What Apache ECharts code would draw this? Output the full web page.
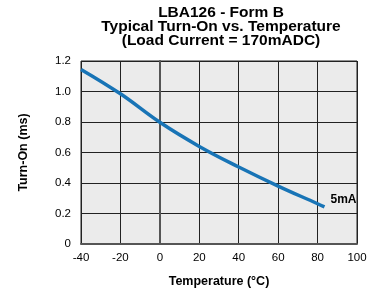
<!DOCTYPE html>
<html><head><meta charset="utf-8">
<script src="https://cdn.jsdelivr.net/npm/echarts@6/dist/echarts.min.js"></script>
<style>html,body{margin:0;padding:0;background:#fff}#c{width:373px;height:293px}</style>
</head><body><div id="c"></div>
<script>
const titleLines = ['LBA126 - Form B', 'Typical Turn-On vs. Temperature', '(Load Current = 170mADC)'];
const xAxisName = 'Temperature (°C)';
const yAxisName = 'Turn-On (ms)';
const seriesName = '5mA';
const temps = [-40, -20, 0, 20, 40, 60, 80, 83.5];
const turnOn = [1.145, 0.985, 0.798, 0.64, 0.505, 0.38, 0.264, 0.243];

const chart = echarts.init(document.getElementById('c'));
chart.setOption({
  animation: false,
  title: {
    text: titleLines.join('\n'),
    left: 216, top: 1, textAlign: 'center',
    textStyle: {fontFamily: 'Liberation Sans', fontWeight: 'bold', fontSize: 15.5, lineHeight: 14, color: '#000'}
  },
  grid: {left: 81, top: 61, right: 16, bottom: 48, show: true, backgroundColor: '#ebebeb', borderColor: '#222', borderWidth: 1},
  xAxis: {
    type: 'value', min: -40, max: 100, interval: 20,
    name: xAxisName, nameLocation: 'middle', nameGap: 31,
    nameTextStyle: {fontFamily: 'Liberation Sans', fontWeight: 'bold', fontSize: 12.5, color: '#000'},
    axisLine: {show: true, onZero: false, lineStyle: {color: '#555', width: 2}},
    axisTick: {show: false},
    axisLabel: {fontFamily: 'Liberation Sans', fontSize: 11.5, color: '#000', margin: 8},
    splitLine: {show: true, lineStyle: {color: '#222', width: 1}}
  },
  yAxis: {
    type: 'value', min: 0, max: 1.2, interval: 0.2,
    name: yAxisName, nameLocation: 'middle', nameGap: 51,
    nameTextStyle: {fontFamily: 'Liberation Sans', fontWeight: 'bold', fontSize: 12.5, color: '#000'},
    axisLine: {show: true, lineStyle: {color: '#555', width: 2}},
    axisTick: {show: false},
    axisLabel: {fontFamily: 'Liberation Sans', fontSize: 11.5, color: '#000', margin: 10,
      formatter: v => v === 0 ? '0' : v.toFixed(1)},
    splitLine: {show: true, lineStyle: {color: '#222', width: 1}}
  },
  series: [{
    name: seriesName, type: 'line', smooth: 0.4, symbol: 'none',
    data: temps.map((t, i) => [t, turnOn[i]]),
    lineStyle: {color: '#1874b6', width: 3.5},
    endLabel: {show: true, formatter: seriesName, offset: [-2, -7],
      fontFamily: 'Liberation Sans', fontWeight: 'bold', fontSize: 12, color: '#000'}
  }]
});
</script></body></html>
